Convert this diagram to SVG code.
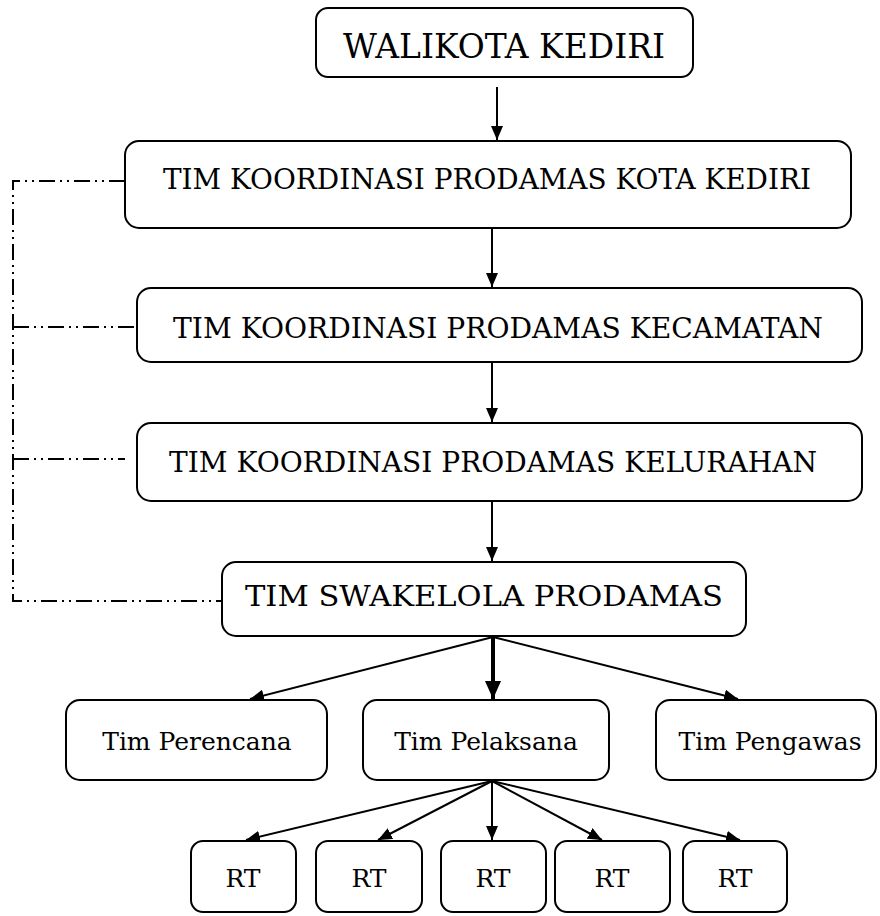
<svg xmlns="http://www.w3.org/2000/svg" width="880" height="916" viewBox="0 0 880 916">
<style>
.box{fill:#fff;stroke:#000;stroke-width:2}
.t{font-family:"DejaVu Serif","Liberation Serif",serif;fill:#000;text-anchor:middle}
.c{stroke:#000;stroke-width:2;fill:none}
.thick{stroke:#000;stroke-width:4;fill:none}
.dd{stroke:#000;stroke-width:2;fill:none;stroke-dasharray:16 5 2 5 2 5}
</style>
<defs>
<marker id="ah" markerUnits="userSpaceOnUse" markerWidth="14" markerHeight="12" refX="14" refY="6" orient="auto"><path d="M0,0 L14,6 L0,12 z" fill="#000"/></marker>
<marker id="ahb" markerUnits="userSpaceOnUse" markerWidth="18" markerHeight="16" refX="18" refY="8" orient="auto"><path d="M0,0 L18,8 L0,16 z" fill="#000"/></marker>
</defs>
<g id="connectors">
<path class="dd" d="M125,181 H13 V601 H222"/>
<line class="dd" x1="13" y1="327" x2="137" y2="327"/>
<line class="dd" x1="13" y1="459" x2="125" y2="459"/>
<line class="c" x1="497" y1="87" x2="497" y2="140" marker-end="url(#ah)"/>
<line class="c" x1="492" y1="229" x2="492" y2="287" marker-end="url(#ah)"/>
<line class="c" x1="492" y1="363" x2="492" y2="422" marker-end="url(#ah)"/>
<line class="c" x1="492" y1="501" x2="492" y2="561" marker-end="url(#ah)"/>
<line class="c" x1="493" y1="637" x2="250" y2="699" marker-end="url(#ah)"/>
<line class="thick" x1="493" y1="637" x2="493" y2="699" marker-end="url(#ahb)"/>
<line class="c" x1="493" y1="637" x2="738" y2="699" marker-end="url(#ah)"/>
<line class="c" x1="492" y1="781" x2="246" y2="840" marker-end="url(#ah)"/>
<line class="c" x1="492" y1="781" x2="378" y2="840" marker-end="url(#ah)"/>
<line class="c" x1="492" y1="781" x2="492" y2="840" marker-end="url(#ah)"/>
<line class="c" x1="492" y1="781" x2="602" y2="840" marker-end="url(#ah)"/>
<line class="c" x1="492" y1="781" x2="740" y2="840" marker-end="url(#ah)"/>
</g>
<g id="walikota"><rect class="box" x="316" y="8" width="377" height="69" rx="12"/><text class="t" x="504" y="58" font-size="33" textLength="322" lengthAdjust="spacingAndGlyphs">WALIKOTA KEDIRI</text></g>
<g id="tim-kota"><rect class="box" x="125" y="141" width="726" height="87" rx="14"/><text class="t" x="487" y="189" font-size="28" textLength="648" lengthAdjust="spacingAndGlyphs">TIM KOORDINASI PRODAMAS KOTA KEDIRI</text></g>
<g id="tim-kecamatan"><rect class="box" x="137" y="288" width="725" height="74" rx="14"/><text class="t" x="498" y="338" font-size="28" textLength="650" lengthAdjust="spacingAndGlyphs">TIM KOORDINASI PRODAMAS KECAMATAN</text></g>
<g id="tim-kelurahan"><rect class="box" x="137" y="423" width="725" height="78" rx="14"/><text class="t" x="493" y="472" font-size="28" textLength="648" lengthAdjust="spacingAndGlyphs">TIM KOORDINASI PRODAMAS KELURAHAN</text></g>
<g id="tim-swakelola"><rect class="box" x="222" y="562" width="524" height="74" rx="14"/><text class="t" x="484" y="606" font-size="28" textLength="478" lengthAdjust="spacingAndGlyphs">TIM SWAKELOLA PRODAMAS</text></g>
<g id="tim-perencana"><rect class="box" x="66" y="700" width="261" height="80" rx="14"/><text class="t" x="197" y="750" font-size="25">Tim Perencana</text></g>
<g id="tim-pelaksana"><rect class="box" x="363" y="700" width="246" height="80" rx="14"/><text class="t" x="486" y="750" font-size="25">Tim Pelaksana</text></g>
<g id="tim-pengawas"><rect class="box" x="656" y="700" width="220" height="80" rx="14"/><text class="t" x="770" y="750" font-size="25">Tim Pengawas</text></g>
<g id="rt1"><rect class="box" x="191" y="841" width="105" height="71" rx="12"/><text class="t" x="243" y="887" font-size="25">RT</text></g>
<g id="rt2"><rect class="box" x="316" y="841" width="106" height="71" rx="12"/><text class="t" x="369" y="887" font-size="25">RT</text></g>
<g id="rt3"><rect class="box" x="441" y="841" width="105" height="71" rx="12"/><text class="t" x="493" y="887" font-size="25">RT</text></g>
<g id="rt4"><rect class="box" x="555" y="841" width="115" height="71" rx="12"/><text class="t" x="612" y="887" font-size="25">RT</text></g>
<g id="rt5"><rect class="box" x="683" y="841" width="104" height="71" rx="12"/><text class="t" x="735" y="887" font-size="25">RT</text></g>
</svg>
